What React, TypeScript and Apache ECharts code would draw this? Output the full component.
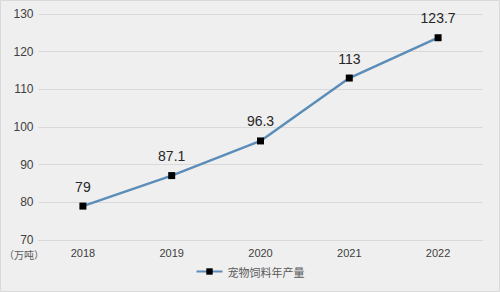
import React, { useEffect, useRef } from "react";
import * as echarts from "echarts";

const years = ["2018", "2019", "2020", "2021", "2022"];
const production = [79, 87.1, 96.3, 113, 123.7];
const seriesName = "宠物饲料年产量";
const unitLabel = "（万吨）";

export default function App() {
  const ref = useRef<HTMLDivElement>(null);
  useEffect(() => {
    const chart = echarts.init(ref.current!, null, { renderer: "svg" });
    chart.setOption({
      animation: false,
      backgroundColor: "#efefef",
      textStyle: { fontFamily: "Liberation Sans, Arial, sans-serif" },
      grid: { left: 38.5, right: 17.5, top: 14, bottom: 52 },
      legend: {
        bottom: 10,
        left: "center",
        itemWidth: 26,
        itemHeight: 8,
        itemGap: 4,
        textStyle: { fontSize: 11, color: "#595959", fontFamily: "Noto Sans CJK SC" },
        data: [seriesName],
      },
      graphic: [
        {
          type: "text",
          left: 4,
          top: 249,
          style: { text: unitLabel, fontSize: 10, fill: "#595959", fontFamily: "Noto Sans CJK SC" },
        },
        {
          type: "rect",
          shape: { x: 0.5, y: 0.5, width: 499, height: 291 },
          style: { fill: "none", stroke: "#d9d9d9", lineWidth: 1 },
          silent: true,
        },
      ],
      xAxis: {
        type: "category",
        data: years,
        boundaryGap: true,
        axisLine: { show: true, lineStyle: { color: "#d9d9d9", width: 1 } },
        axisTick: { show: false },
        axisLabel: { color: "#404040", fontSize: 11, margin: 7 },
      },
      yAxis: {
        type: "value",
        min: 70,
        max: 130,
        interval: 10,
        axisLine: { show: false },
        axisTick: { show: false },
        axisLabel: { color: "#404040", fontSize: 12, margin: 5, verticalAlign: "bottom", lineHeight: 12, padding: [0, 0, -6, 0] },
        splitLine: { lineStyle: { color: "#d9d9d9", width: 1 } },
      },
      series: [
        {
          name: seriesName,
          type: "line",
          data: production,
          symbol: "rect",
          symbolSize: 7,
          itemStyle: { color: "#000000" },
          lineStyle: { color: "#5b8db8", width: 2.5 },
          label: {
            show: true,
            position: "top",
            distance: 9,
            fontSize: 14,
            color: "#262626",
          },
        },
      ],
    });
    return () => chart.dispose();
  }, []);
  return (
    <div
      ref={ref}
      style={{ position: "absolute", left: 0, top: 0, width: 500, height: 292 }}
    />
  );
}
